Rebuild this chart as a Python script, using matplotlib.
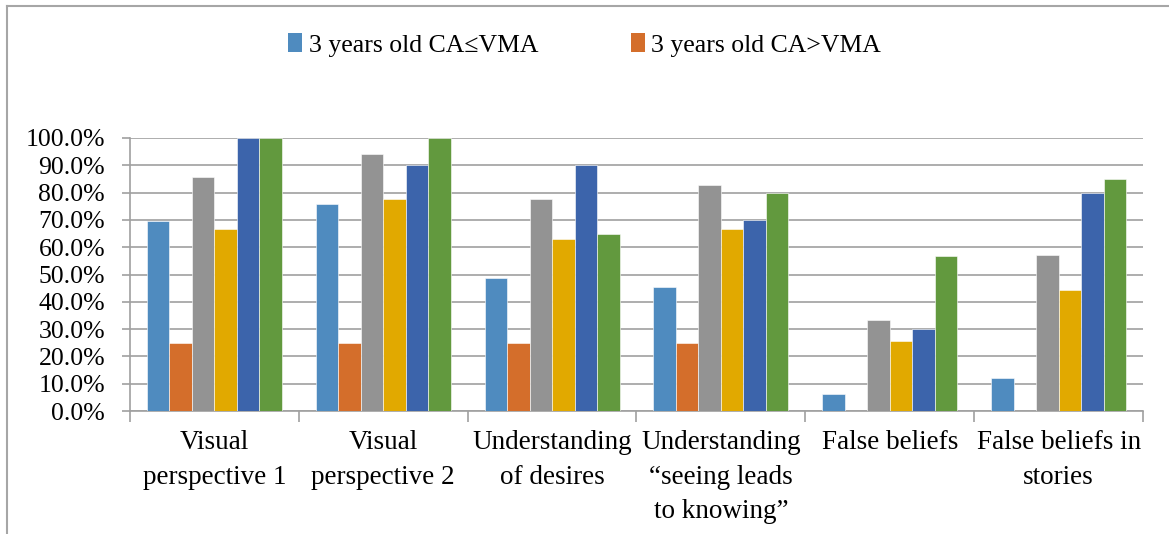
import numpy as np
import matplotlib
matplotlib.use('Agg')
import matplotlib.pyplot as plt
from matplotlib.patches import Patch
from matplotlib.lines import Line2D

# Data (percent)
categories = [
    'Visual\nperspective 1',
    'Visual\nperspective 2',
    'Understanding\nof desires',
    'Understanding\n\u201cseeing leads\nto knowing\u201d',
    'False beliefs',
    'False beliefs in\nstories',
]
ca_le_vma_3y = [69.5, 75.7, 48.6, 45.5, 6.1, 12.1]
ca_gt_vma_3y = [25.0, 25.0, 25.0, 25.0, 0.0, 0.0]
series_3 = [85.7, 94.1, 77.8, 82.8, 33.3, 57.1]
series_4 = [66.7, 77.8, 63.0, 66.7, 25.6, 44.4]
series_5 = [100.0, 90.0, 90.0, 70.0, 30.0, 80.0]
series_6 = [100.0, 100.0, 64.9, 80.0, 56.9, 84.9]

legend_labels = ['3 years old CA\u2264VMA', '3 years old CA>VMA']
y_ticks = np.arange(0, 101, 10)

series = [ca_le_vma_3y, ca_gt_vma_3y, series_3, series_4, series_5, series_6]
colors = ['#4F8BBF', '#D46E2B', '#939393', '#E1A900', '#3C64AB', '#62993E']

plt.rcParams['font.family'] = ['Liberation Serif', 'DejaVu Serif']

fig = plt.figure(figsize=(11.69, 5.34), dpi=100)
ax = fig.add_axes([130 / 1169, 1 - 411 / 534, (1143 - 130) / 1169, (411 - 138) / 534])

n = len(series)
x = np.arange(len(categories))
bar_w = 0.8 / n
for i, (vals, c) in enumerate(zip(series, colors)):
    ax.bar(x - 0.4 + bar_w * (i + 0.5), vals, width=bar_w, color=c,
           edgecolor='white', linewidth=0.4, zorder=3)

ax.set_xlim(-0.5, len(categories) - 0.5)
ax.set_ylim(0, 100)
ax.set_yticks(y_ticks)
ax.set_yticklabels([f'{v:.1f}%' for v in y_ticks], fontsize=18.5)
ax.yaxis.grid(True, color='#A0A0A0', linewidth=1.2, zorder=0)
ax.set_axisbelow(True)

# category labels between boundary ticks
ax.set_xticks(np.arange(len(categories) + 1) - 0.5)
ax.set_xticklabels([])
ax.set_xticks(x, minor=True)
ax.set_xticklabels(categories, minor=True, fontsize=19.5, linespacing=1.5, va='top')
ax.tick_params(axis='x', which='minor', length=0, pad=14)
ax.tick_params(axis='x', which='major', length=8, width=1.2, color='#A0A0A0')
ax.tick_params(axis='y', length=6, width=1.2, color='#A0A0A0', pad=12)

for s in ['top', 'right']:
    ax.spines[s].set_visible(False)
for s in ['left', 'bottom']:
    ax.spines[s].set_color('#A0A0A0')
    ax.spines[s].set_linewidth(1.2)

handles = [Patch(facecolor=colors[0]), Patch(facecolor=colors[1])]
fig.legend(handles, legend_labels, loc='center', bbox_to_anchor=(0.5, 1 - 45 / 534),
           ncol=2, frameon=False, fontsize=18.5, handlelength=0.55, handleheight=0.74,
           handletextpad=0.25, columnspacing=3.6)

# outer chart border (top and left edges visible)
fig.add_artist(Line2D([7 / 1169, 1.0], [1 - 6 / 534, 1 - 6 / 534],
                      transform=fig.transFigure, color='#A6A6A6', linewidth=1.5))
fig.add_artist(Line2D([7 / 1169, 7 / 1169], [0, 1 - 6 / 534],
                      transform=fig.transFigure, color='#A6A6A6', linewidth=1.5))

fig.savefig('out.png', dpi=100)
